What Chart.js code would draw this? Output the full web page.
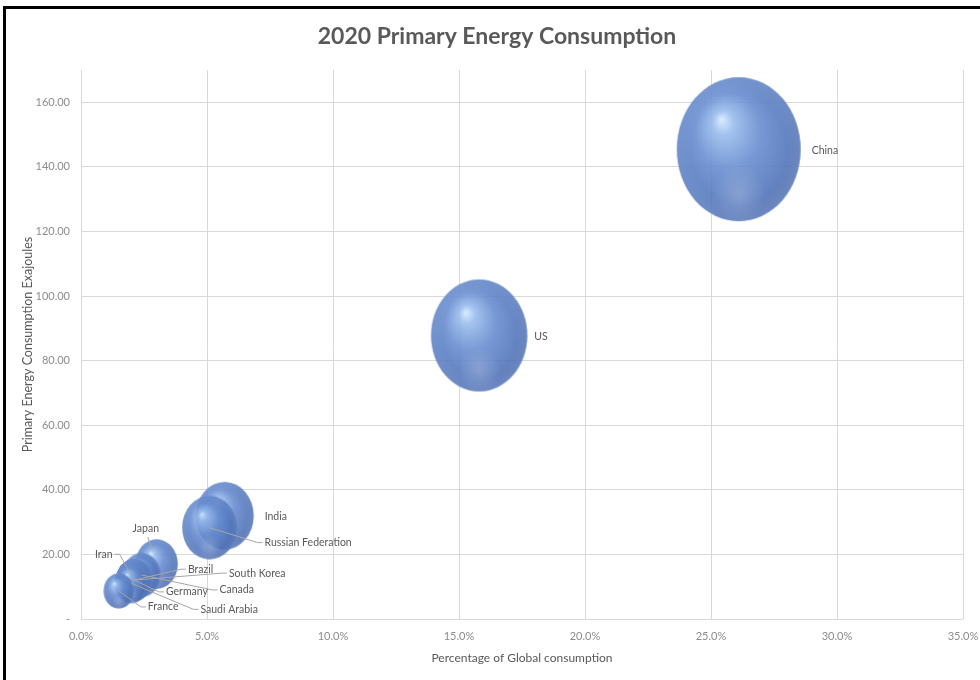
<!DOCTYPE html>
<html>
<head>
<meta charset="utf-8">
<script src="https://cdn.jsdelivr.net/npm/chart.js@4.4.1/dist/chart.umd.min.js"></script>
<style>
  html, body { margin: 0; padding: 0; background: #fff; }
  #wrap { position: relative; width: 980px; height: 680px; }
</style>
</head>
<body>
<div id="wrap"><canvas id="energy-chart" width="980" height="680"></canvas></div>
<script>
// 2020 primary energy by country (drawn largest first so small bubbles sit on top)
const countries = ['China', 'US', 'India', 'Russian Federation', 'Japan', 'Canada',
    'Germany', 'South Korea', 'Brazil', 'Iran', 'Saudi Arabia', 'France'];
const globalShare = [26.1, 15.8, 5.7, 5.1, 3.0, 2.4, 2.1, 2.1, 2.1, 2.1, 2.0, 1.5];   // % of global
const exajoules = [145.46, 87.79, 31.98, 28.31, 17.03, 13.63, 12.11, 12.04, 12.01, 11.99, 11.04, 8.69];
const yTicks = [0, 20, 40, 60, 80, 100, 120, 140, 160];
const xTicks = [0, 5, 10, 15, 20, 25, 30, 35];

// where each data label sits relative to its bubble (px), and whether it has a leader line
const labelPlacement = [
    { dx: 73, dy: 1 },
    { dx: 55, dy: 1 },
    { dx: 40, dy: 1 },
    { dx: 55, dy: 15, leader: true },
    { dx: -24, dy: -35, leader: true, side: 'below', k: 0.55 },
    { dx: 78, dy: 15, leader: true },
    { dx: 32, dy: 12, leader: true },
    { dx: 95, dy: -7, leader: true },
    { dx: 54, dy: -11, leader: true },
    { dx: -39, dy: -26, leader: true, side: 'right' },
    { dx: 69, dy: 26, leader: true },
    { dx: 29, dy: 16, leader: true }
];

const FONT = 'Lato, "Open Sans", sans-serif';
const maxRadius = 72;          // vertical radius of the biggest bubble
const squash = 0.86;           // bubbles are drawn a little taller than wide
const maxSize = Math.max(...exajoules);

const points = countries.map((c, i) => ({
    x: globalShare[i],
    y: exajoules[i],
    r: maxRadius * Math.sqrt(exajoules[i] / maxSize)
}));

// glossy 3d sprite for one bubble
function makeSprite(r) {
    const c = document.createElement('canvas');
    c.width = Math.ceil(r * squash * 2) + 2;
    c.height = Math.ceil(r * 2) + 2;
    const g = c.getContext('2d');
    g.translate(c.width / 2, c.height / 2);
    g.scale(squash, 1);

    // body with highlight up-left
    g.globalAlpha = 0.88;
    let grad = g.createRadialGradient(-0.28 * r, -0.42 * r, 0, -0.08 * r, -0.08 * r, r * 1.06);
    grad.addColorStop(0, 'rgb(214, 234, 255)');
    grad.addColorStop(0.16, 'rgb(150, 186, 236)');
    grad.addColorStop(0.5, 'rgb(100, 138, 206)');
    grad.addColorStop(0.84, 'rgb(80, 116, 186)');
    grad.addColorStop(1, 'rgb(70, 100, 166)');
    g.beginPath();
    g.arc(0, 0, r, 0, Math.PI * 2);
    g.fillStyle = grad;
    g.fill();

    // soft rim light
    g.globalAlpha = 1;
    grad = g.createRadialGradient(0, 0, 0.78 * r, 0, 0, r);
    grad.addColorStop(0, 'rgba(150, 180, 232, 0)');
    grad.addColorStop(1, 'rgba(150, 180, 232, 0.3)');
    g.beginPath();
    g.arc(0, 0, r, 0, Math.PI * 2);
    g.fillStyle = grad;
    g.fill();

    // faint reflection near the bottom
    grad = g.createRadialGradient(0, 0.62 * r, 0, 0, 0.62 * r, 0.42 * r);
    grad.addColorStop(0, 'rgba(175, 190, 225, 0.42)');
    grad.addColorStop(1, 'rgba(175, 190, 225, 0)');
    g.beginPath();
    g.arc(0, 0, r, 0, Math.PI * 2);
    g.fillStyle = grad;
    g.fill();
    return c;
}
const sprites = points.map(p => makeSprite(p.r));

const chartTitle = {
    id: 'chartTitle',
    afterDraw(chart) {
        const ctx = chart.ctx;
        ctx.save();
        ctx.font = 'bold 23px ' + FONT;
        ctx.fillStyle = '#595959';
        ctx.textAlign = 'center';
        ctx.textBaseline = 'middle';
        ctx.fillText('2020 Primary Energy Consumption', 497, 37);
        // outer frame of the screenshot
        ctx.fillStyle = '#000';
        ctx.fillRect(3, 6, 3, 674);
        ctx.fillRect(3, 6, 977, 3);
        ctx.restore();
    }
};

const bubbleLabels = {
    id: 'bubbleLabels',
    afterDatasetsDraw(chart) {
        const ctx = chart.ctx;
        const meta = chart.getDatasetMeta(0);
        ctx.save();
        ctx.font = '10.5px ' + FONT;
        ctx.textBaseline = 'middle';
        ctx.textAlign = 'left';
        meta.data.forEach((el, i) => {
            const pl = labelPlacement[i];
            const tx = el.x + pl.dx, ty = el.y + pl.dy;
            const w = ctx.measureText(countries[i]).width;
            if (pl.leader) {
                let sx, sy, hx;
                if (pl.side === 'right') { sx = tx + w + 2; sy = ty; hx = sx + 5; }
                else if (pl.side === 'below') { sx = tx + w / 2 + 2; sy = ty + 8; hx = sx; }
                else { sx = tx - 2; sy = ty; hx = sx - 5; }
                const k = pl.k || 0;
                const ex = el.x + (sx - el.x) * k, ey = el.y + (sy - el.y) * k;
                ctx.strokeStyle = '#a6a6a6';
                ctx.lineWidth = 1;
                ctx.beginPath();
                ctx.moveTo(sx, sy);
                ctx.lineTo(hx, sy);
                ctx.lineTo(ex, ey);
                ctx.stroke();
            }
            ctx.fillStyle = '#595959';
            ctx.fillText(countries[i], tx, ty);
        });
        ctx.restore();
    }
};

const ctx = document.getElementById('energy-chart').getContext('2d');
const energyChart = new Chart(ctx, {
    type: 'bubble',
    data: {
        datasets: [{
            label: 'Primary Energy Consumption',
            data: points,
            pointStyle: (c) => sprites[c.dataIndex],
            backgroundColor: '#5b83c6',
            borderWidth: 0,
            hoverBorderWidth: 0,
            clip: false
        }]
    },
    options: {
        responsive: false,
        animation: false,
        events: [],
        layout: { autoPadding: false, padding: { left: 0, right: 17, bottom: 0, top: 70 } },
        plugins: {
            legend: { display: false },
            tooltip: { enabled: false },
            title: { display: false }
        },
        scales: {
            x: {
                type: 'linear',
                min: 0,
                max: 35,
                afterBuildTicks: (scale) => { scale.ticks = xTicks.map(v => ({ value: v })); },
                afterFit: (scale) => { scale.height = 61; scale.paddingLeft = 0; scale.paddingRight = 0; },
                grid: { color: '#d9d9d9', drawTicks: false },
                border: { display: false },
                ticks: {
                    padding: 11,
                    color: '#8c8c8c',
                    font: { family: FONT, size: 11 },
                    callback: (v) => v.toFixed(1) + '%',
                    maxRotation: 0
                },
                title: {
                    display: true,
                    text: 'Percentage of Global consumption',
                    color: '#595959',
                    font: { family: FONT, size: 12 },
                    padding: { top: 0, bottom: 15 }
                }
            },
            y: {
                type: 'linear',
                min: 0,
                max: 170,
                afterBuildTicks: (scale) => { scale.ticks = yTicks.map(v => ({ value: v })); },
                afterFit: (scale) => { scale.width = 81; scale.paddingTop = 0; scale.paddingBottom = 0; },
                grid: { color: '#d9d9d9', drawTicks: false },
                border: { display: false },
                ticks: {
                    padding: 11,
                    color: '#8c8c8c',
                    font: { family: FONT, size: 11 },
                    callback: (v) => v === 0 ? '-' : v.toFixed(2)
                },
                title: {
                    display: true,
                    text: 'Primary Energy Consumption Exajoules',
                    color: '#595959',
                    font: { family: FONT, size: 12.5 },
                    padding: { top: 20, bottom: 0 }
                }
            }
        }
    },
    plugins: [bubbleLabels, chartTitle]
});
</script>
</body>
</html>
